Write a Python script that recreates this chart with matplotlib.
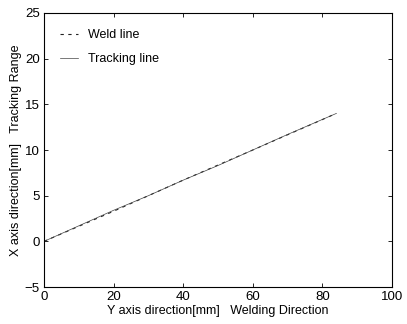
import matplotlib
matplotlib.use("Agg")
import matplotlib.pyplot as plt

plt.rcParams["font.family"] = ["Liberation Sans", "DejaVu Sans"]

# weld seam (reference) and tracked path
weld_x = [0, 20, 40, 60, 84]
weld_y = [0, 3.3, 6.7, 10.0, 14.0]
track_x = [0, 10, 20, 30, 40, 50, 60, 70, 84]
track_y = [0, 1.7, 3.4, 5.0, 6.7, 8.3, 10.0, 11.7, 14.0]

x_ticks = [0, 20, 40, 60, 80, 100]
y_ticks = [-5, 0, 5, 10, 15, 20, 25]

fig = plt.figure(figsize=(4.07, 3.24), dpi=100)
ax = fig.add_axes([0.108, 0.114, 0.855, 0.846])

ax.plot(weld_x, weld_y, "--", color="#222222", lw=0.8, dashes=(3, 4), label="Weld line")
ax.plot(track_x, track_y, "-", color="#444444", lw=0.5, label="Tracking line")

ax.set_xlim(0, 100)
ax.set_ylim(-5, 25)
ax.set_xticks(x_ticks)
ax.set_yticks(y_ticks)
ax.tick_params(direction="in", length=3, width=0.6, labelsize=9.5,
               top=True, right=True, pad=3)
for s in ax.spines.values():
    s.set_linewidth(0.8)

ax.set_xlabel("Y axis direction[mm]   Welding Direction", fontsize=9, labelpad=1)
ax.set_ylabel("X axis direction[mm]   Tracking Range", fontsize=9, labelpad=2)

ax.legend(loc="upper left", frameon=False, fontsize=9, handlelength=1.4,
          borderaxespad=1.1, borderpad=0.2, labelspacing=0.95, handletextpad=0.8)

fig.savefig("out.png", dpi=100)
